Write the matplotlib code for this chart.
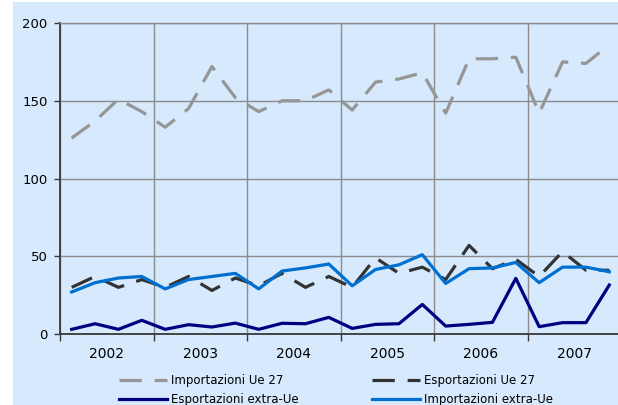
import matplotlib
matplotlib.use("Agg")
import matplotlib.pyplot as plt
from matplotlib.patches import Rectangle

# dati trimestrali 2002-2007
anni = ["2002", "2003", "2004", "2005", "2006", "2007"]
imp_ue27 = [126, 137, 151, 143, 133, 145, 172, 152, 143, 150, 150, 157,
            144, 162, 164, 168, 142, 177, 177, 178, 142, 175, 174, 186]
esp_ue27 = [30, 37, 30, 35, 30, 37, 28, 36, 31, 39, 30, 37,
            30, 49, 39, 43, 35, 57, 42, 48, 37, 53, 41, 41]
esp_extra = [3, 6.6, 3, 8.8, 3, 6, 4.5, 7, 3, 6.9, 6.6, 10.7,
             3.6, 6.2, 6.6, 19, 5.1, 6.2, 7.5, 35.8, 4.7, 7.3, 7.3, 31.5]
imp_extra = [27, 33, 36, 37, 29, 35, 37, 39, 29, 40.5, 42.5, 45,
             31, 41.5, 44.5, 51, 32.5, 42, 42.5, 46, 33, 43, 43, 40]

bg = "#d6e9fd"
grid_col = "#8c8c8c"
axis_col = "#383838"

fig = plt.figure(figsize=(6.18, 4.05), dpi=100, facecolor="white")
fig.patches.append(Rectangle((13 / 618, 0), 1, 403 / 405, transform=fig.transFigure,
                             facecolor=bg, edgecolor="none", zorder=-10))

ax = fig.add_axes([60 / 618, 1 - 334 / 405, 561 / 618, 311 / 405])
ax.set_facecolor(bg)

x = list(range(len(imp_ue27)))
l1, = ax.plot(x, imp_ue27, color="#969696", lw=2.3, dashes=(7, 4), label="Importazioni Ue 27")
l2, = ax.plot(x, esp_ue27, color="#333333", lw=2.3, dashes=(7, 4), label="Esportazioni Ue 27")
l3, = ax.plot(x, esp_extra, color="#000080", lw=2.3, label="Esportazioni extra-Ue")
l4, = ax.plot(x, imp_extra, color="#0070d0", lw=2.3, label="Importazioni extra-Ue")

ax.set_xlim(-0.5, len(x) - 0.5)
ax.set_ylim(0, 200)
ax.set_yticks([0, 50, 100, 150, 200])

# confini degli anni (tick maggiori) ed etichette al centro (tick minori)
ax.set_xticks([i * 4 - 0.5 for i in range(len(anni) + 1)])
ax.set_xticklabels([])
ax.set_xticks([i * 4 + 1.5 for i in range(len(anni))], minor=True)
ax.set_xticklabels(anni, minor=True)
ax.tick_params(axis="x", which="major", length=5, width=1, color=axis_col, direction="out")
ax.tick_params(axis="x", which="minor", length=0, pad=9, labelsize=10)
ax.tick_params(axis="y", length=4, width=1, color=axis_col, pad=5, labelsize=9.5)

ax.grid(True, which="major", color=grid_col, lw=1)
ax.set_axisbelow(True)
ax.spines["right"].set_visible(False)
ax.spines["top"].set_color(grid_col)
ax.spines["top"].set_linewidth(1)
for s in ["left", "bottom"]:
    ax.spines[s].set_color(axis_col)
    ax.spines[s].set_linewidth(1.3)

leg_kw = dict(loc="upper left", frameon=False, fontsize=8.5, handlelength=4.1,
              handletextpad=0.3, borderpad=0, borderaxespad=0, labelspacing=0.48)
fig.legend(handles=[l1, l3], bbox_to_anchor=(119 / 618, 1 - 374 / 405), **leg_kw)
fig.legend(handles=[l2, l4], bbox_to_anchor=(372 / 618, 1 - 374 / 405), **leg_kw)

fig.savefig("out.png", dpi=100, facecolor="white")
